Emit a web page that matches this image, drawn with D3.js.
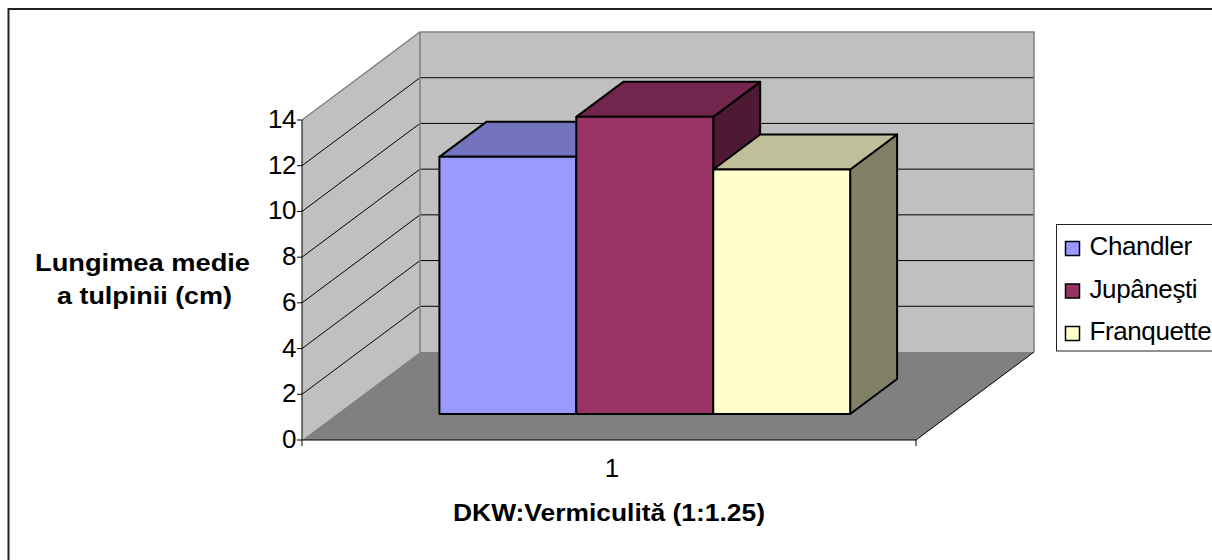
<!DOCTYPE html>
<html>
<head>
<meta charset="utf-8">
<style>
  html, body { margin: 0; padding: 0; background: #fff; }
  svg { display: block; }
  text { font-family: "Liberation Sans", Arial, sans-serif; fill: #000; }
</style>
<script src="https://cdnjs.cloudflare.com/ajax/libs/d3/7.8.5/d3.min.js"></script>
</head>
<body>
<svg id="chart" width="1212" height="560"></svg>
<script>
// Mean stem length per cultivar
const categories = ["1"];
const seriesNames = ["Chandler", "Jupâneşti", "Franquette"];
const seriesValues = [11.25, 13, 10.7];
const yTicks = [0, 2, 4, 6, 8, 10, 12, 14];
const yTitleLines = ["Lungimea medie", "a tulpinii (cm)"];
const xTitle = "DKW:Vermiculită (1:1.25)";
const frontColors = ["#9999ff", "#993366", "#ffffcc"];
const topColors = ["#7373bf", "#73264d", "#bfbf99"];
const sideColors = ["#5c5c99", "#4d1933", "#808066"];

const svg = d3.select("#chart");

// Oblique projection: depth 0 is the front plane, depth 1 the back wall
const depthDX = 118, depthDY = -88;
const x = d3.scaleLinear().domain([0, 1]).range([302, 916]);
const y = d3.scaleLinear().domain([0, 14]).range([440, 120]);
const seriesBand = d3.scaleBand().domain(seriesNames).range([x(0.167), x(0.836)]);
const project = (px, v, depth) => [px + depth * depthDX, y(v) + depth * depthDY];
const poly = pts => pts.map(p => p.join(",")).join(" ");

// Outer chart frame: open at the right and bottom page edges
svg.append("polyline").attr("points", "8.5,560 8.5,9 1212,9")
  .attr("fill", "none").attr("stroke", "#222").attr("stroke-width", 2);

const x0 = x(0), x1 = x(1), vMin = 0, vMax = 14;

// Walls and floor
svg.append("polygon")
  .attr("points", poly([project(x0, vMin, 1), project(x1, vMin, 1), project(x1, vMax, 1), project(x0, vMax, 1)]))
  .attr("fill", "#c0c0c0");
svg.append("polygon")
  .attr("points", poly([project(x0, vMin, 0), project(x0, vMin, 1), project(x0, vMax, 1), project(x0, vMax, 0)]))
  .attr("fill", "#c0c0c0");
svg.append("polygon")
  .attr("points", poly([project(x0, vMin, 0), project(x1, vMin, 0), project(x1, vMin, 1), project(x0, vMin, 1)]))
  .attr("fill", "#808080");

// Gridlines across the side wall and back wall
const grid = svg.append("g").attr("fill", "none").attr("stroke", "#000").attr("stroke-width", 1);
yTicks.filter(t => t > 0 && t < 14).forEach(t => {
  grid.append("polyline").attr("points", poly([project(x0, t, 0), project(x0, t, 1), project(x1, t, 1)]));
});

// Wall edges
svg.append("polyline")
  .attr("points", poly([project(x0, vMax, 0), project(x0, vMax, 1), project(x1, vMax, 1), project(x1, vMin, 1)]))
  .attr("fill", "none").attr("stroke", "#808080").attr("stroke-width", 1.5);
svg.append("line")
  .attr("x1", project(x0, vMin, 1)[0]).attr("y1", project(x0, vMin, 1)[1])
  .attr("x2", project(x0, vMax, 1)[0]).attr("y2", project(x0, vMax, 1)[1])
  .attr("stroke", "#808080").attr("stroke-width", 1.5);

// Front axes
const axes = svg.append("g").attr("stroke", "#000").attr("stroke-width", 1).attr("fill", "none");
axes.append("polyline").attr("points", poly([project(x0, vMax, 0), project(x0, vMin, 0), project(x1, vMin, 0), project(x1, vMin, 1)]));
axes.append("line").attr("x1", x0).attr("x2", x0).attr("y1", y(0)).attr("y2", y(0) + 6);
axes.append("line").attr("x1", x1).attr("x2", x1).attr("y1", y(0)).attr("y2", y(0) + 6);
yTicks.forEach(t => {
  axes.append("line").attr("x1", x0 - 5).attr("x2", x0).attr("y1", y(t)).attr("y2", y(t));
});

svg.append("g").selectAll("text").data(yTicks).join("text")
  .attr("x", x0 - 6).attr("y", d => y(d) + 8).attr("text-anchor", "end")
  .attr("font-size", 26).attr("letter-spacing", -0.5).text(d => d);

svg.append("text").attr("x", 612).attr("y", 477).attr("text-anchor", "middle")
  .attr("font-size", 26).text(categories[0]);

// Bars, left to right, each with side, top and front faces
const depthFront = 26 / 88, depthBack = 61 / 88;
const bars = svg.append("g").attr("stroke", "#000").attr("stroke-width", 2).attr("stroke-linejoin", "round");
seriesNames.forEach((name, i) => {
  const l = seriesBand(name), r = l + seriesBand.bandwidth(), v = seriesValues[i];
  bars.append("polygon").attr("fill", sideColors[i]).attr("points", poly([
    project(r, 0, depthFront), project(r, 0, depthBack), project(r, v, depthBack), project(r, v, depthFront)]));
  bars.append("polygon").attr("fill", topColors[i]).attr("points", poly([
    project(l, v, depthFront), project(r, v, depthFront), project(r, v, depthBack), project(l, v, depthBack)]));
  bars.append("polygon").attr("fill", frontColors[i]).attr("points", poly([
    project(l, 0, depthFront), project(r, 0, depthFront), project(r, v, depthFront), project(l, v, depthFront)]));
});

// Axis titles, set wide and tight
const titleRows = [
  { text: yTitleLines[0], cx: 142.5, base: 271, len: 215 },
  { text: yTitleLines[1], cx: 144.5, base: 304, len: 175 },
  { text: xTitle, cx: 609, base: 521, len: 312 }
];
svg.append("g").selectAll("text").data(titleRows).join("text")
  .attr("x", d => d.cx).attr("y", d => d.base).attr("text-anchor", "middle")
  .attr("font-size", 24).attr("font-weight", "bold")
  .attr("textLength", d => d.len).attr("lengthAdjust", "spacingAndGlyphs")
  .text(d => d.text);

// Legend
svg.append("rect").attr("x", 1056.5).attr("y", 224.5).attr("width", 170).attr("height", 126.5)
  .attr("fill", "#fff").attr("stroke", "#222").attr("stroke-width", 1);
const legendY = d3.scalePoint().domain(seriesNames).range([248, 333]);
seriesNames.forEach((name, i) => {
  svg.append("rect").attr("x", 1065.5).attr("y", legendY(name) - 6.5).attr("width", 14).attr("height", 14)
    .attr("fill", frontColors[i]).attr("stroke", "#000").attr("stroke-width", 1.5);
  svg.append("text").attr("x", 1089.5).attr("y", legendY(name) + 7)
    .attr("font-size", 26).attr("letter-spacing", -0.4).text(name);
});
</script>
</body>
</html>
